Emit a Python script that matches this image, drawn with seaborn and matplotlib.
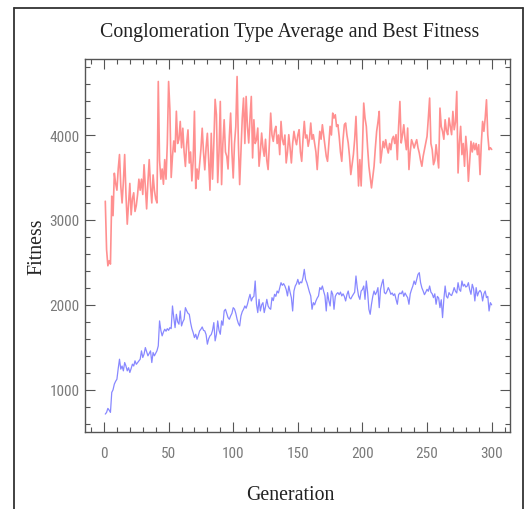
import numpy as np
import pandas as pd
import matplotlib
matplotlib.use("Agg")
import matplotlib.pyplot as plt
from matplotlib.lines import Line2D
from matplotlib.ticker import MultipleLocator
import seaborn as sns

title = "Conglomeration Type Average and Best Fitness"
x_label = "Generation"
y_label = "Fitness"
x_ticks = [0, 50, 100, 150, 200, 250, 300]
y_ticks = [1000, 2000, 3000, 4000]

best_fitness = [
    3220, 2650, 2460, 2520, 2480, 3280, 3050, 3550, 3430, 3350,
    3600, 3770, 3400, 3200, 3450, 3770, 3300, 2950, 3200, 3430,
    3060, 3250, 3320, 3100, 3170, 3300, 3480, 3350, 3480, 3300,
    3650, 3400, 3130, 3450, 3710, 3400, 3200, 3530, 3350, 3250,
    3200, 4630, 3700, 3480, 3600, 3420, 3710, 3480, 3900, 4630,
    4300, 3500, 3750, 3930, 3800, 4280, 3900, 3950, 4160, 3850,
    4080, 3800, 3630, 3900, 4060, 3670, 3800, 3460, 3700, 4280,
    3370, 3600, 3480, 3650, 3830, 4080, 3800, 3590, 3850, 4020,
    3700, 3350, 4020, 3480, 3900, 4420, 4240, 3440, 3800, 4395,
    3416, 3900, 4180, 3800, 3750, 3600, 3984, 4258, 3800, 3494,
    3900, 4100, 4689, 3900, 3416, 3800, 4200, 4435, 3900, 4454,
    4100, 3906, 4200, 4454, 3730, 4180, 3900, 3945, 4082, 3632,
    3800, 4023, 3850, 3750, 3950, 3700, 3593, 3900, 4258, 4000,
    3925, 4050, 4102, 3900, 4000, 3769, 4160, 3950, 3886, 4000,
    3671, 3800, 4004, 3850, 3671, 3900, 4043, 3950, 3886, 4000,
    4062, 3800, 3690, 3950, 4160, 3965, 4000, 3867, 3950, 4141,
    3950, 4004, 3906, 3800, 3593, 3850, 4043, 3950, 4121, 4000,
    3886, 3750, 3690, 3900, 4102, 4000, 4258, 4200, 4239, 4100,
    4121, 3984, 3800, 3690, 3950, 4121, 4141, 4000, 3906, 3750,
    3534, 3650, 3769, 3950, 4219, 3800, 3400, 3710, 3400, 3830,
    4376, 4200, 4102, 3850, 3632, 3500, 3377, 3500, 3632, 3850,
    4043, 4150, 4278, 3671, 3800, 3925, 3850, 3945, 3850, 3788,
    3900, 3827, 3950, 3984, 3900, 4004, 3710, 4100, 4395, 3906,
    4000, 4121, 3950, 3827, 4082, 3593, 3800, 3945, 3900, 3847,
    3900, 3945, 3850, 3788, 3700, 3632, 3750, 3827, 3900, 3984,
    4200, 4435, 3900, 3827, 3651, 3700, 3886, 3750, 3612, 4317,
    4100, 4043, 3950, 4180, 4050, 4004, 4200, 4100, 4004, 4278,
    4062, 4150, 4513, 3553, 3900, 4102, 3769, 3900, 3632, 3984,
    3800, 3455, 3700, 3925, 3800, 3906, 3827, 3900, 3769, 3886,
    3534, 3900, 4160, 4043, 4200, 4415, 4000, 3827, 3850, 3830,
]

average_fitness = [
    714, 734, 781, 760, 734, 969, 1000, 1067, 1100, 1125,
    1250, 1360, 1243, 1280, 1223, 1321, 1280, 1223, 1260, 1204,
    1250, 1302, 1280, 1341, 1300, 1321, 1340, 1360, 1458, 1380,
    1420, 1497, 1450, 1400, 1430, 1458, 1321, 1439, 1400, 1430,
    1460, 1517, 1811, 1700, 1635, 1680, 1713, 1690, 1720, 1700,
    1732, 1720, 1987, 1850, 1732, 1889, 1800, 1772, 1928, 1752,
    1800, 1830, 1967, 1930, 1900, 1889, 1791, 1720, 1674, 1615,
    1654, 1595, 1640, 1693, 1713, 1740, 1700, 1693, 1650, 1537,
    1600, 1635, 1650, 1700, 1791, 1576, 1650, 1811, 1700, 1654,
    1811, 1760, 1928, 1948, 1900, 1850, 1830, 1870, 1900, 1967,
    1950, 1900, 1830, 1780, 1752, 1870, 1920, 1948, 1987, 1960,
    2007, 2070, 2124, 2046, 2085, 2100, 2281, 2007, 1909, 2065,
    1928, 2000, 2026, 1909, 1980, 2065, 1987, 1960, 1948, 2085,
    2050, 2124, 2100, 2163, 2140, 2200, 2261, 2230, 2250, 2222,
    2180, 2105, 2222, 2150, 2085, 1928, 2163, 2222, 2250, 2300,
    2242, 2270, 2260, 2320, 2418, 2300, 2261, 2203, 2150, 2105,
    1948, 2026, 2000, 2046, 2080, 2105, 2203, 2180, 2222, 2160,
    2105, 1928, 2144, 2050, 1987, 2163, 2124, 1948, 2100, 2130,
    2144, 2120, 2150, 2105, 2130, 2100, 2046, 2120, 2163, 2085,
    2070, 2100, 2124, 2150, 2340, 2200, 2105, 2065, 2163, 2180,
    2222, 2065, 2281, 2150, 1948, 1889, 2007, 2100, 2163, 2120,
    2150, 2203, 1967, 2183, 2250, 2300, 2144, 2130, 2160, 2203,
    2170, 2124, 2140, 2110, 2130, 2065, 2007, 2120, 2140, 2130,
    2163, 2100, 2140, 2110, 2085, 2007, 2130, 2180, 2222, 2281,
    2240, 2300, 2359, 2379, 2261, 2200, 2163, 2120, 2150, 2183,
    2160, 2222, 2150, 2130, 2085, 2130, 2007, 2100, 2080, 1967,
    2060, 1850, 2065, 2222, 2100, 2080, 2144, 2120, 2110, 2150,
    2203, 2160, 2140, 2261, 2180, 2160, 2281, 2220, 2242, 2210,
    2220, 2261, 2180, 2124, 2242, 2190, 2046, 2203, 2105, 2150,
    2170, 2144, 2046, 2130, 2163, 2085, 2100, 1928, 2026, 2000,
]

generations = list(range(1, len(best_fitness) + 1))

df = pd.DataFrame({
    "generation": generations,
    "best": best_fitness,
    "average": average_fitness,
})

sns.set_theme(style="white")
plt.rcParams["font.family"] = ["Liberation Serif", "DejaVu Serif"]

fig = plt.figure(figsize=(5.25, 5.10), dpi=100)
fig.patch.set_facecolor("white")
ax = fig.add_axes([85 / 525, 1 - 433 / 510, (510 - 85) / 525, (433 - 60) / 510])

sns.lineplot(data=df, x="generation", y="average", ax=ax, color="#8888ff", linewidth=0.9)
sns.lineplot(data=df, x="generation", y="best", ax=ax, color="#ff9090", linewidth=1.2)

ax.set_xlim(-14.7, 314.2)
ax.set_ylim(503, 4895)
ax.set_xticks(x_ticks)
ax.set_yticks(y_ticks)
ax.xaxis.set_minor_locator(MultipleLocator(10))
ax.yaxis.set_minor_locator(MultipleLocator(200))

spine_color = "#555555"
for s in ax.spines.values():
    s.set_color(spine_color)
    s.set_linewidth(1.0)
    s.set_visible(True)

ax.tick_params(which="both", direction="in", top=True, right=True, bottom=True, left=True,
               color=spine_color, width=0.8)
ax.tick_params(which="major", length=7)
ax.tick_params(which="minor", length=3.5)
ax.tick_params(axis="both", which="major", labelsize=11, labelcolor="#7a7a7a")
ax.tick_params(axis="x", which="major", pad=10)
ax.tick_params(axis="y", which="major", pad=4)
tick_family = ["Liberation Sans Narrow", "Roboto Condensed", "DejaVu Sans"]
for lab in ax.get_xticklabels() + ax.get_yticklabels():
    lab.set_family(tick_family)
    lab.set_fontstretch("condensed")

ax.set_xlabel(x_label, fontsize=14.3, color="#222222")
ax.set_ylabel(y_label, fontsize=14.3, color="#222222")
ax.xaxis.set_label_coords((290 - 85) / 425, (433 - 486) / 373)
ax.yaxis.set_label_coords((46 - 85) / 425, 0.5)
ax.grid(False)

fig.text(290 / 525, 1 - 33 / 510, title, ha="center", va="center", fontsize=14.3, color="#222222")

# outer frame lines of the screenshot
frame_color = "#333333"
fig.add_artist(Line2D([14 / 525, 523 / 525], [1 - 9 / 510, 1 - 9 / 510], transform=fig.transFigure,
                      color=frame_color, linewidth=1.3))
fig.add_artist(Line2D([14 / 525, 14 / 525], [0, 1 - 9 / 510], transform=fig.transFigure,
                      color=frame_color, linewidth=1.3))
fig.add_artist(Line2D([523 / 525, 523 / 525], [0, 1 - 9 / 510], transform=fig.transFigure,
                      color=frame_color, linewidth=1.3))

fig.savefig("out.png", dpi=100, facecolor="white")
